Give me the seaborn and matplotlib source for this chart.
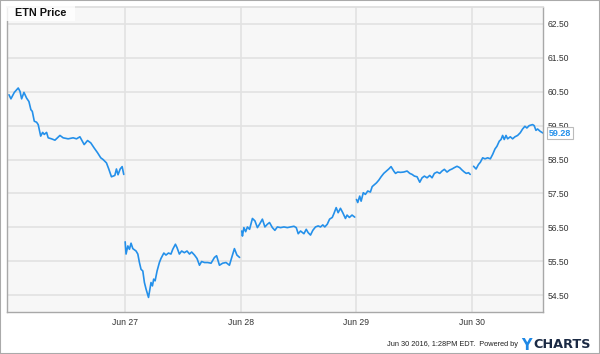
import numpy as np
import pandas as pd
import matplotlib
matplotlib.use("Agg")
import matplotlib.pyplot as plt
import seaborn as sns
from matplotlib.patches import Rectangle

# intraday ETN prices, one list per trading day (hour of day, price)
day_labels = ["Jun 24", "Jun 27", "Jun 28", "Jun 29", "Jun 30"]

jun24_hours = [9.50, 9.61, 9.80, 10.02, 10.12, 10.21, 10.34, 10.49, 10.62, 10.73, 10.81, 10.92,
               11.05, 11.14, 11.28, 11.39, 11.48, 11.61, 11.70, 11.89, 12.08, 12.36, 12.54, 12.82,
               13.10, 13.29, 13.48, 13.72, 13.91, 14.09, 14.28, 14.47, 14.65, 14.78, 14.97, 15.10,
               15.25, 15.44, 15.53, 15.62, 15.74, 15.85, 15.94]
jun24_price = [60.41, 60.29, 60.48, 60.61, 60.51, 60.29, 60.48, 60.31, 60.21, 59.97, 59.92, 59.63,
               59.60, 59.53, 59.19, 59.30, 59.24, 59.30, 59.14, 59.11, 59.07, 59.21, 59.14, 59.11,
               59.14, 59.11, 59.17, 58.94, 59.06, 58.99, 58.84, 58.70, 58.55, 58.50, 58.40, 58.22,
               57.99, 58.03, 58.22, 58.05, 58.22, 58.29, 58.06]

jun27_hours = [9.52, 9.57, 9.67, 9.76, 9.85, 9.95, 10.13, 10.23, 10.32, 10.41, 10.51, 10.60,
               10.69, 10.83, 10.97, 11.05, 11.12, 11.20, 11.31, 11.44, 11.53, 11.69, 11.81, 11.95,
               12.09, 12.19, 12.34, 12.43, 12.56, 12.69, 12.84, 12.99, 13.13, 13.25, 13.41, 13.55,
               13.69, 13.81, 13.97, 14.15, 14.34, 14.53, 14.65, 14.81, 14.99, 15.18, 15.37, 15.50,
               15.65, 15.79, 15.94]
jun27_price = [56.07, 55.71, 55.95, 55.85, 56.03, 55.87, 55.80, 55.71, 55.46, 55.26, 55.21, 54.87,
               54.68, 54.43, 54.87, 54.77, 54.97, 54.92, 55.21, 55.46, 55.58, 55.74, 55.68, 55.74,
               55.71, 55.85, 56.00, 55.90, 55.71, 55.80, 55.75, 55.80, 55.71, 55.77, 55.68, 55.58,
               55.38, 55.49, 55.46, 55.46, 55.44, 55.61, 55.66, 55.38, 55.44, 55.46, 55.38, 55.61,
               55.87, 55.68, 55.61]

jun28_hours = [9.56, 9.60, 9.68, 9.78, 9.88, 10.00, 10.16, 10.30, 10.44, 10.56, 10.72, 10.86,
               11.00, 11.12, 11.28, 11.42, 11.56, 11.74, 11.93, 12.12, 12.30, 12.49, 12.62, 12.73,
               12.86, 13.05, 13.18, 13.29, 13.42, 13.55, 13.70, 13.85, 13.98, 14.11, 14.22, 14.36,
               14.49, 14.64, 14.73, 14.86, 14.97, 15.10, 15.23, 15.38, 15.47, 15.60, 15.75, 15.90]
jun28_price = [56.39, 56.24, 56.49, 56.37, 56.51, 56.44, 56.76, 56.69, 56.49, 56.59, 56.74, 56.51,
               56.59, 56.64, 56.49, 56.41, 56.51, 56.49, 56.51, 56.49, 56.51, 56.53, 56.49, 56.31,
               56.39, 56.31, 56.44, 56.34, 56.27, 56.41, 56.51, 56.54, 56.51, 56.57, 56.51, 56.59,
               56.74, 56.79, 56.90, 57.08, 56.93, 57.06, 56.93, 56.76, 56.86, 56.79, 56.86, 56.80]

jun29_hours = [9.50, 9.57, 9.68, 9.76, 9.88, 10.00, 10.13, 10.28, 10.38, 10.51, 10.62, 10.75,
               10.88, 11.03, 11.18, 11.31, 11.44, 11.59, 11.69, 11.81, 11.97, 12.15, 12.34, 12.49,
               12.62, 12.75, 12.90, 13.05, 13.18, 13.31, 13.46, 13.61, 13.74, 13.87, 14.02, 14.17,
               14.30, 14.43, 14.58, 14.73, 14.86, 14.99, 15.14, 15.29, 15.42, 15.55, 15.66, 15.79,
               15.88]
jun29_price = [57.32, 57.23, 57.42, 57.27, 57.52, 57.47, 57.57, 57.54, 57.70, 57.76, 57.81, 57.89,
               57.99, 58.09, 58.16, 58.22, 58.29, 58.16, 58.09, 58.13, 58.12, 58.13, 58.16, 58.09,
               58.06, 58.01, 57.99, 57.83, 57.96, 58.01, 57.96, 58.03, 57.96, 58.09, 58.13, 58.09,
               58.16, 58.21, 58.13, 58.19, 58.22, 58.26, 58.30, 58.26, 58.19, 58.13, 58.09, 58.11,
               58.06]

jun30_hours = [9.57, 9.71, 9.84, 9.95, 10.08, 10.21, 10.36, 10.51, 10.64, 10.77, 10.88, 11.01,
               11.11, 11.20, 11.29, 11.39, 11.48, 11.63, 11.76, 11.89, 12.04, 12.19, 12.32, 12.45,
               12.56, 12.69, 12.88, 12.97, 13.07, 13.16, 13.31, 13.47]
jun30_price = [58.30, 58.22, 58.35, 58.42, 58.55, 58.52, 58.55, 58.52, 58.65, 58.81, 58.89, 59.04,
               59.09, 59.21, 59.09, 59.21, 59.11, 59.17, 59.11, 59.17, 59.21, 59.29, 59.40, 59.48,
               59.43, 59.50, 59.53, 59.50, 59.36, 59.40, 59.33, 59.28]

y_ticks = [54.5, 55.5, 56.5, 57.5, 58.5, 59.5, 60.5, 61.5, 62.5]

hours = [jun24_hours, jun27_hours, jun28_hours, jun29_hours, jun30_hours]
prices = [jun24_price, jun27_price, jun28_price, jun29_price, jun30_price]

# one row per point; x position is trading day index + fraction of the session
frames = []
for i, (h, p) in enumerate(zip(hours, prices)):
    h = np.array(h)
    frames.append(pd.DataFrame({"pos": i + (h - 9.5) / 6.5, "price": p, "day": day_labels[i]}))
df = pd.concat(frames, ignore_index=True)

sns.set_theme(style="whitegrid")
plt.rcParams["font.family"] = ["Liberation Sans", "DejaVu Sans"]

blue = "#2490ea"
fig = plt.figure(figsize=(6, 3.54), dpi=100)
ax = fig.add_axes([7 / 600, 1 - 312 / 354, 536 / 600, 305 / 354])
ax.set_facecolor("#f7f7f7")

sns.lineplot(data=df, x="pos", y="price", units="day", estimator=None,
             color=blue, linewidth=1.2, ax=ax)

ax.set_xlim(-0.017, 4.61)
ax.set_ylim(54, 63)
ax.set_yticks(y_ticks)
ax.set_yticklabels([f"{v:.2f}" for v in y_ticks])
ax.set_xticks([1, 2, 3, 4])
ax.set_xticklabels(day_labels[1:])
ax.yaxis.tick_right()
ax.tick_params(axis="both", length=0, labelsize=6.2, colors="#333333")
ax.tick_params(axis="y", pad=3)
ax.tick_params(axis="x", pad=4)
ax.grid(True, color="#e2e2e2", linewidth=1.2)
ax.set_xlabel("")
ax.set_ylabel("")
for side in ["left", "bottom", "right"]:
    ax.spines[side].set_color("#a8a8a8")
    ax.spines[side].set_linewidth(1)
ax.spines["top"].set_color("#dddddd")

ax.text(0.003, 0.997, "  ETN Price  ", transform=ax.transAxes, ha="left", va="top",
        fontsize=7.8, fontweight="bold", color="#111111",
        bbox=dict(facecolor="white", edgecolor="none", pad=2.5, alpha=0.8))

# last price tag on the right axis
last = jun30_price[-1]
ax.annotate(f"{last:.2f}", xy=(1, last), xycoords=("axes fraction", "data"),
            xytext=(4, 0), textcoords="offset points", va="center", ha="left",
            fontsize=6.5, fontweight="bold", color=blue,
            bbox=dict(facecolor="white", edgecolor="#bbbbbb", pad=1.2, linewidth=0.8))

fig.text(518 / 600, 1 - 344 / 354, "Jun 30 2016, 1:28PM EDT.  Powered by", ha="right", va="center",
         fontsize=5.3, color="#222222")
fig.text(521 / 600, 1 - 345 / 354, "Y", ha="left", va="center", fontsize=10.5,
         fontweight="bold", color="#1e88e5", family="DejaVu Sans")
fig.text(533 / 600, 1 - 345 / 354, "CHARTS", ha="left", va="center", fontsize=9.3,
         fontweight="bold", color="#1b2a44", family="DejaVu Sans")

fig.patches.append(Rectangle((0, 0), 1, 1, transform=fig.transFigure, fill=False,
                             edgecolor="#aaaaaa", linewidth=1.5))

fig.savefig("out.png", dpi=100)
